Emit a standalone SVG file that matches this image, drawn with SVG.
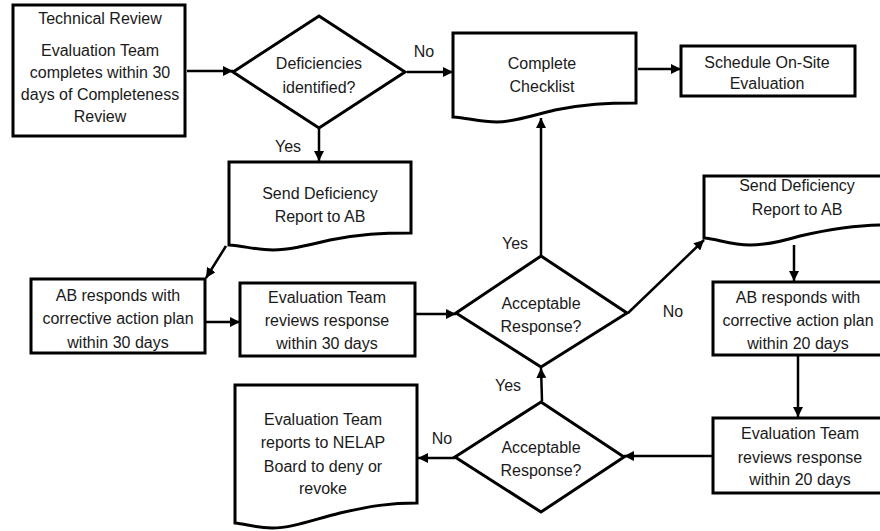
<svg xmlns="http://www.w3.org/2000/svg" width="880" height="531" viewBox="0 0 880 531">
<defs>
<marker id="ah" viewBox="0 0 10 10" refX="10" refY="5" markerWidth="4" markerHeight="4" orient="auto" markerUnits="strokeWidth">
<path d="M0,0 L10,5 L0,10 z" fill="#000"/>
</marker>
<style>
.s{fill:#fff;stroke:#000;stroke-width:3}
.t{font-family:"Liberation Sans Narrow","Arial Narrow","Liberation Sans",sans-serif;font-size:16px;fill:#1a1a1a;text-anchor:middle}
.c{fill:none;stroke:#000;stroke-width:2.5;marker-end:url(#ah)}
.l{fill:none;stroke:#000;stroke-width:2.5}
</style>
</defs>
<rect width="880" height="531" fill="#fff"/>

<g id="technical-review">
<rect class="s" x="13" y="5" width="172" height="131"/>
<text class="t" x="100" y="24">Technical Review</text>
<text class="t" x="100" y="56">Evaluation Team</text>
<text class="t" x="100" y="78">completes within 30</text>
<text class="t" x="100" y="100">days of Completeness</text>
<text class="t" x="100" y="122">Review</text>
</g>

<g id="deficiencies-identified">
<polygon class="s" points="319,16 405,72 319,128 233,72"/>
<text class="t" x="319" y="69">Deficiencies</text>
<text class="t" x="319" y="93">identified?</text>
</g>

<g id="complete-checklist">
<path class="s" d="M453,33 H636 V103 C606,103 585,104 555,110 C530,116 513,122 497,122 C480,122 468,118 453,117 Z"/>
<text class="t" x="542" y="69">Complete</text>
<text class="t" x="542" y="92">Checklist</text>
</g>

<g id="schedule-onsite">
<rect class="s" x="681" y="46" width="174" height="50"/>
<text class="t" x="767" y="68">Schedule On-Site</text>
<text class="t" x="767" y="89">Evaluation</text>
</g>

<g id="send-deficiency-1">
<path class="s" d="M229,162 H411 V233 C381,233 360,234 330,240 C305,246 288,250 273,250 C257,250 244,246 229,245 Z"/>
<text class="t" x="320" y="199">Send Deficiency</text>
<text class="t" x="320" y="222">Report to AB</text>
</g>

<g id="ab-responds-30">
<rect class="s" x="31" y="279" width="174" height="74"/>
<text class="t" x="118" y="301">AB responds with</text>
<text class="t" x="118" y="324">corrective action plan</text>
<text class="t" x="118" y="348">within 30 days</text>
</g>

<g id="eval-reviews-30">
<rect class="s" x="240" y="283" width="175" height="73"/>
<text class="t" x="327" y="303">Evaluation Team</text>
<text class="t" x="327" y="326">reviews response</text>
<text class="t" x="327" y="349">within 30 days</text>
</g>

<g id="acceptable-response-1">
<polygon class="s" points="541,256 627,313 541,367 456,313"/>
<text class="t" x="541" y="309">Acceptable</text>
<text class="t" x="541" y="332">Response?</text>
</g>

<g id="send-deficiency-2">
<path class="s" d="M704,176 H884 V225 C860,225 835,228 800,236 C780,242 765,245 750,245 C730,245 718,239 704,238 Z"/>
<text class="t" x="797" y="191">Send Deficiency</text>
<text class="t" x="797" y="215">Report to AB</text>
</g>

<g id="ab-responds-20">
<rect class="s" x="713" y="282" width="172" height="73"/>
<text class="t" x="798" y="303">AB responds with</text>
<text class="t" x="798" y="326">corrective action plan</text>
<text class="t" x="798" y="349">within 20 days</text>
</g>

<g id="eval-reviews-20">
<rect class="s" x="713" y="418" width="172" height="75"/>
<text class="t" x="800" y="439">Evaluation Team</text>
<text class="t" x="800" y="463">reviews response</text>
<text class="t" x="800" y="485">within 20 days</text>
</g>

<g id="acceptable-response-2">
<polygon class="s" points="541,402 624,457 541,512 455,457"/>
<text class="t" x="541" y="453">Acceptable</text>
<text class="t" x="541" y="476">Response?</text>
</g>

<g id="nelap-report">
<path class="s" d="M235,385 H417 V503 C390,503 370,506 340,513 C312,520 292,528 272,528 C256,528 246,524 235,523 Z"/>
<text class="t" x="323" y="425">Evaluation Team</text>
<text class="t" x="323" y="448">reports to NELAP</text>
<text class="t" x="323" y="472">Board to deny or</text>
<text class="t" x="323" y="494">revoke</text>
</g>

<g id="connectors">
<line class="c" x1="187" y1="71" x2="233" y2="71"/>
<line class="c" x1="407" y1="72" x2="453" y2="72"/>
<line class="c" x1="638" y1="69" x2="681" y2="69"/>
<line class="c" x1="319" y1="129" x2="319" y2="161"/>
<line class="c" x1="226" y1="246" x2="206" y2="278"/>
<line class="c" x1="206" y1="322" x2="240" y2="322"/>
<line class="c" x1="416" y1="314" x2="456" y2="314"/>
<line class="c" x1="541" y1="255" x2="541" y2="118"/>
<line class="c" x1="628" y1="313" x2="704" y2="240"/>
<line class="c" x1="794" y1="245" x2="794" y2="281"/>
<line class="c" x1="798" y1="356" x2="798" y2="417"/>
<line class="c" x1="712" y1="456" x2="624" y2="456"/>
<line class="c" x1="542" y1="401" x2="541" y2="368"/>
<line class="c" x1="455" y1="458" x2="418" y2="458"/>
<text class="t" x="424" y="57">No</text>
<text class="t" x="288" y="152">Yes</text>
<text class="t" x="515" y="249">Yes</text>
<text class="t" x="673" y="317">No</text>
<text class="t" x="508" y="391">Yes</text>
<text class="t" x="442" y="444">No</text>
</g>
</svg>
